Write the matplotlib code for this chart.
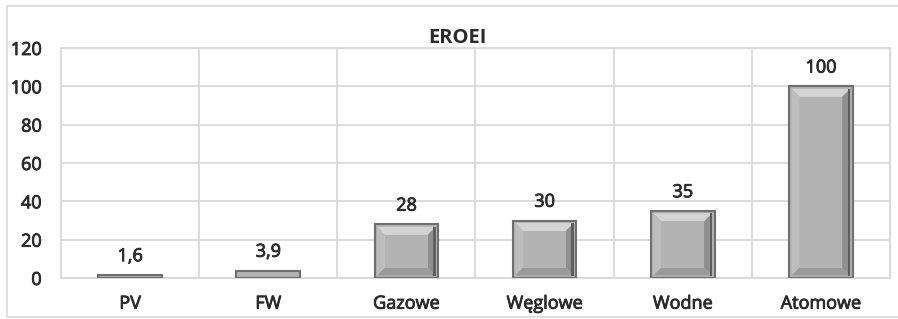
import matplotlib
matplotlib.use("Agg")
import matplotlib.pyplot as plt
import matplotlib.patheffects as pe
from matplotlib.patches import Polygon, Rectangle
import numpy as np

categories = ["PV", "FW", "Gazowe", "Węglowe", "Wodne", "Atomowe"]
values = [1.6, 3.9, 28, 30, 35, 100]
value_labels = ["1,6", "3,9", "28", "30", "35", "100"]
yticks = [0, 20, 40, 60, 80, 100, 120]

plt.rcParams['font.family'] = ['Open Sans', 'DejaVu Sans']
FS = 13
TC = '#2b2b2b'
PE = [pe.withStroke(linewidth=0.6, foreground=TC)]

fig = plt.figure(figsize=(8.98, 3.19), dpi=100)
ax = fig.add_axes([61/898, 1-278/319, (890-61)/898, (278-48)/319])

x = np.arange(len(categories))
bars = ax.bar(x, values, width=0.46, color='#b3b3b3', edgecolor='#6f6f6f', linewidth=1.5, zorder=3)

ax.set_xlim(-0.5, len(categories)-0.5)
ax.set_ylim(0, 120)
ax.set_yticks(yticks)
ax.set_yticklabels([str(t) for t in yticks], fontsize=FS, color=TC)
ax.set_xticks(x)
ax.set_xticklabels(categories, fontsize=FS, color=TC)
for t in ax.get_xticklabels() + ax.get_yticklabels():
    t.set_path_effects(PE)
ax.tick_params(axis='y', length=0, pad=14)
ax.tick_params(axis='x', length=0, pad=12)
ax.set_xticks(np.arange(len(categories)+1) - 0.5, minor=True)
ax.grid(True, axis='y', color='#d9d9d9', linewidth=1.3, zorder=0)
ax.grid(True, axis='x', which='minor', color='#d9d9d9', linewidth=1.3, zorder=0)
ax.tick_params(axis='x', which='minor', length=0)
for s in ax.spines.values():
    s.set_color('#d9d9d9')
    s.set_linewidth(1.3)

for b, lab in zip(bars, value_labels):
    ax.annotate(lab, (b.get_x()+b.get_width()/2, b.get_height()), xytext=(0, 7),
                textcoords='offset points', ha='center', va='bottom',
                fontsize=FS, color=TC, zorder=5, path_effects=PE)

# bevel effect
fig.canvas.draw()
inv = ax.transData.inverted()
for b in bars:
    bb = b.get_window_extent()
    x0, y0, x1, y1 = bb.x0, bb.y0, bb.x1, bb.y1
    o = 2.5
    d = 8
    if (y1 - y0) < 2*(o+d) + 2:
        continue
    ox0, oy0, ox1, oy1 = x0+o, y0+o, x1-o, y1-o
    ix0, iy0, ix1, iy1 = ox0+d, oy0+d, ox1-d, oy1-d
    def tr(pts):
        return [tuple(inv.transform(p)) for p in pts]
    faces = [
        ([(ox0, oy1), (ox1, oy1), (ix1, iy1), (ix0, iy1)], '#d4d4d4'),
        ([(ox0, oy0), (ox0, oy1), (ix0, iy1), (ix0, iy0)], '#bdbdbd'),
        ([(ox1, oy0), (ox1, oy1), (ix1, iy1), (ix1, iy0)], '#8f8f8f'),
        ([(ox0, oy0), (ox1, oy0), (ix1, iy0), (ix0, iy0)], '#9a9a9a'),
    ]
    for pts, c in faces:
        ax.add_patch(Polygon(tr(pts), closed=True, facecolor=c, edgecolor='none', zorder=4))
    p0 = inv.transform((ix0, iy0)); p1 = inv.transform((ix1, iy1))
    ax.add_patch(Rectangle(p0, p1[0]-p0[0], p1[1]-p0[1], facecolor='#b3b3b3',
                           edgecolor='none', zorder=4))
    q0 = inv.transform((ox1-2.5, oy0)); q1 = inv.transform((ox1, oy1))
    ax.add_patch(Rectangle(q0, q1[0]-q0[0], q1[1]-q0[1], facecolor='#5e5e5e',
                           edgecolor='none', zorder=4))

fig.text(457/898, 1-38/319, "EROEI", ha='center', va='center', fontsize=14.5,
         fontweight='bold', color=TC)

fig.patches.append(Rectangle((7/898, 1-317/319), 1.0, (317-6)/319, transform=fig.transFigure,
                             fill=False, edgecolor='#d9d9d9', linewidth=1.2))

fig.savefig("out.png", dpi=100)
